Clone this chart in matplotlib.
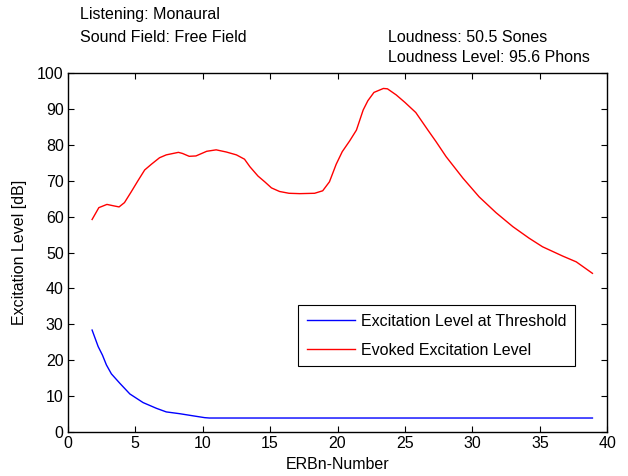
import matplotlib.pyplot as plt

# ERBn-number positions and excitation levels
erb_evoked = [1.8, 2.3, 2.9, 3.4, 3.8, 4.2, 4.7, 5.2, 5.7, 6.2, 6.8, 7.3, 8.2, 8.5,
              9.0, 9.5, 10.3, 11.0, 11.75, 12.5, 13.1, 13.5, 14.1, 14.6, 15.1, 15.7,
              16.4, 17.2, 18.3, 18.9, 19.4, 19.9, 20.35, 20.9, 21.4, 21.9, 22.25,
              22.7, 23.4, 23.7, 24.35, 25.0, 25.8, 26.7, 27.3, 28.05, 29.3, 30.5,
              31.75, 33.0, 34.2, 35.2, 36.7, 37.7, 38.9]
level_evoked = [59.2, 62.5, 63.4, 63.0, 62.7, 63.9, 66.9, 70.0, 73.0, 74.6, 76.4, 77.2,
                77.9, 77.6, 76.8, 76.9, 78.2, 78.6, 78.0, 77.2, 76.0, 73.9, 71.3, 69.7,
                68.0, 67.0, 66.5, 66.4, 66.5, 67.2, 69.7, 74.6, 78.1, 81.1, 84.1, 89.7,
                92.3, 94.6, 95.7, 95.6, 93.9, 91.8, 89.0, 84.1, 80.9, 76.7, 70.7, 65.5,
                61.1, 57.2, 54.0, 51.6, 49.0, 47.4, 44.2]

erb_threshold = [1.8, 2.25, 2.57, 2.86, 3.23, 3.85, 4.6, 5.58, 6.57, 7.3, 8.3, 9.3,
                 10.15, 10.5, 20.0, 30.0, 38.9]
level_threshold = [28.4, 23.8, 21.4, 18.7, 16.2, 13.6, 10.6, 8.2, 6.6, 5.6, 5.1, 4.5,
                   4.0, 3.9, 3.9, 3.9, 3.9]

plt.rcParams['font.family'] = ['Liberation Sans', 'DejaVu Sans']
plt.rcParams['font.size'] = 11.5

fig = plt.figure(figsize=(6.28, 4.76), dpi=100)
ax = fig.add_axes([0.108, 0.0924, 0.859, 0.7542])

ax.plot(erb_threshold, level_threshold, color='blue', lw=1,
        label='Excitation Level at Threshold')
ax.plot(erb_evoked, level_evoked, color='red', lw=1,
        label='Evoked Excitation Level')

ax.set_xlim(0, 40)
ax.set_ylim(0, 100)
ax.set_xticks(range(0, 41, 5))
ax.set_yticks(range(0, 101, 10))
ax.tick_params(direction='in', top=True, right=True, length=4, labelsize=11.5, pad=3)
ax.set_xlabel('ERBn-Number', labelpad=4)
ax.set_ylabel('Excitation Level [dB]', labelpad=7)
for s in ax.spines.values():
    s.set_linewidth(1)

leg = ax.legend(loc='upper left', bbox_to_anchor=(0.4265, 0.353), borderaxespad=0,
                fancybox=False, edgecolor='black', framealpha=1, handlelength=3.05,
                borderpad=0.55, labelspacing=0.85, handletextpad=0.35, fontsize=11.5)
leg.get_frame().set_linewidth(0.8)

fig.text(80 / 628, 1 - 15 / 476, 'Listening: Monaural', va='center', ha='left')
fig.text(80 / 628, 1 - 37 / 476, 'Sound Field: Free Field', va='center', ha='left')
fig.text(388 / 628, 1 - 37 / 476, 'Loudness: 50.5 Sones', va='center', ha='left')
fig.text(388 / 628, 1 - 57 / 476, 'Loudness Level: 95.6 Phons', va='center', ha='left')

fig.savefig('out.png', dpi=100)
